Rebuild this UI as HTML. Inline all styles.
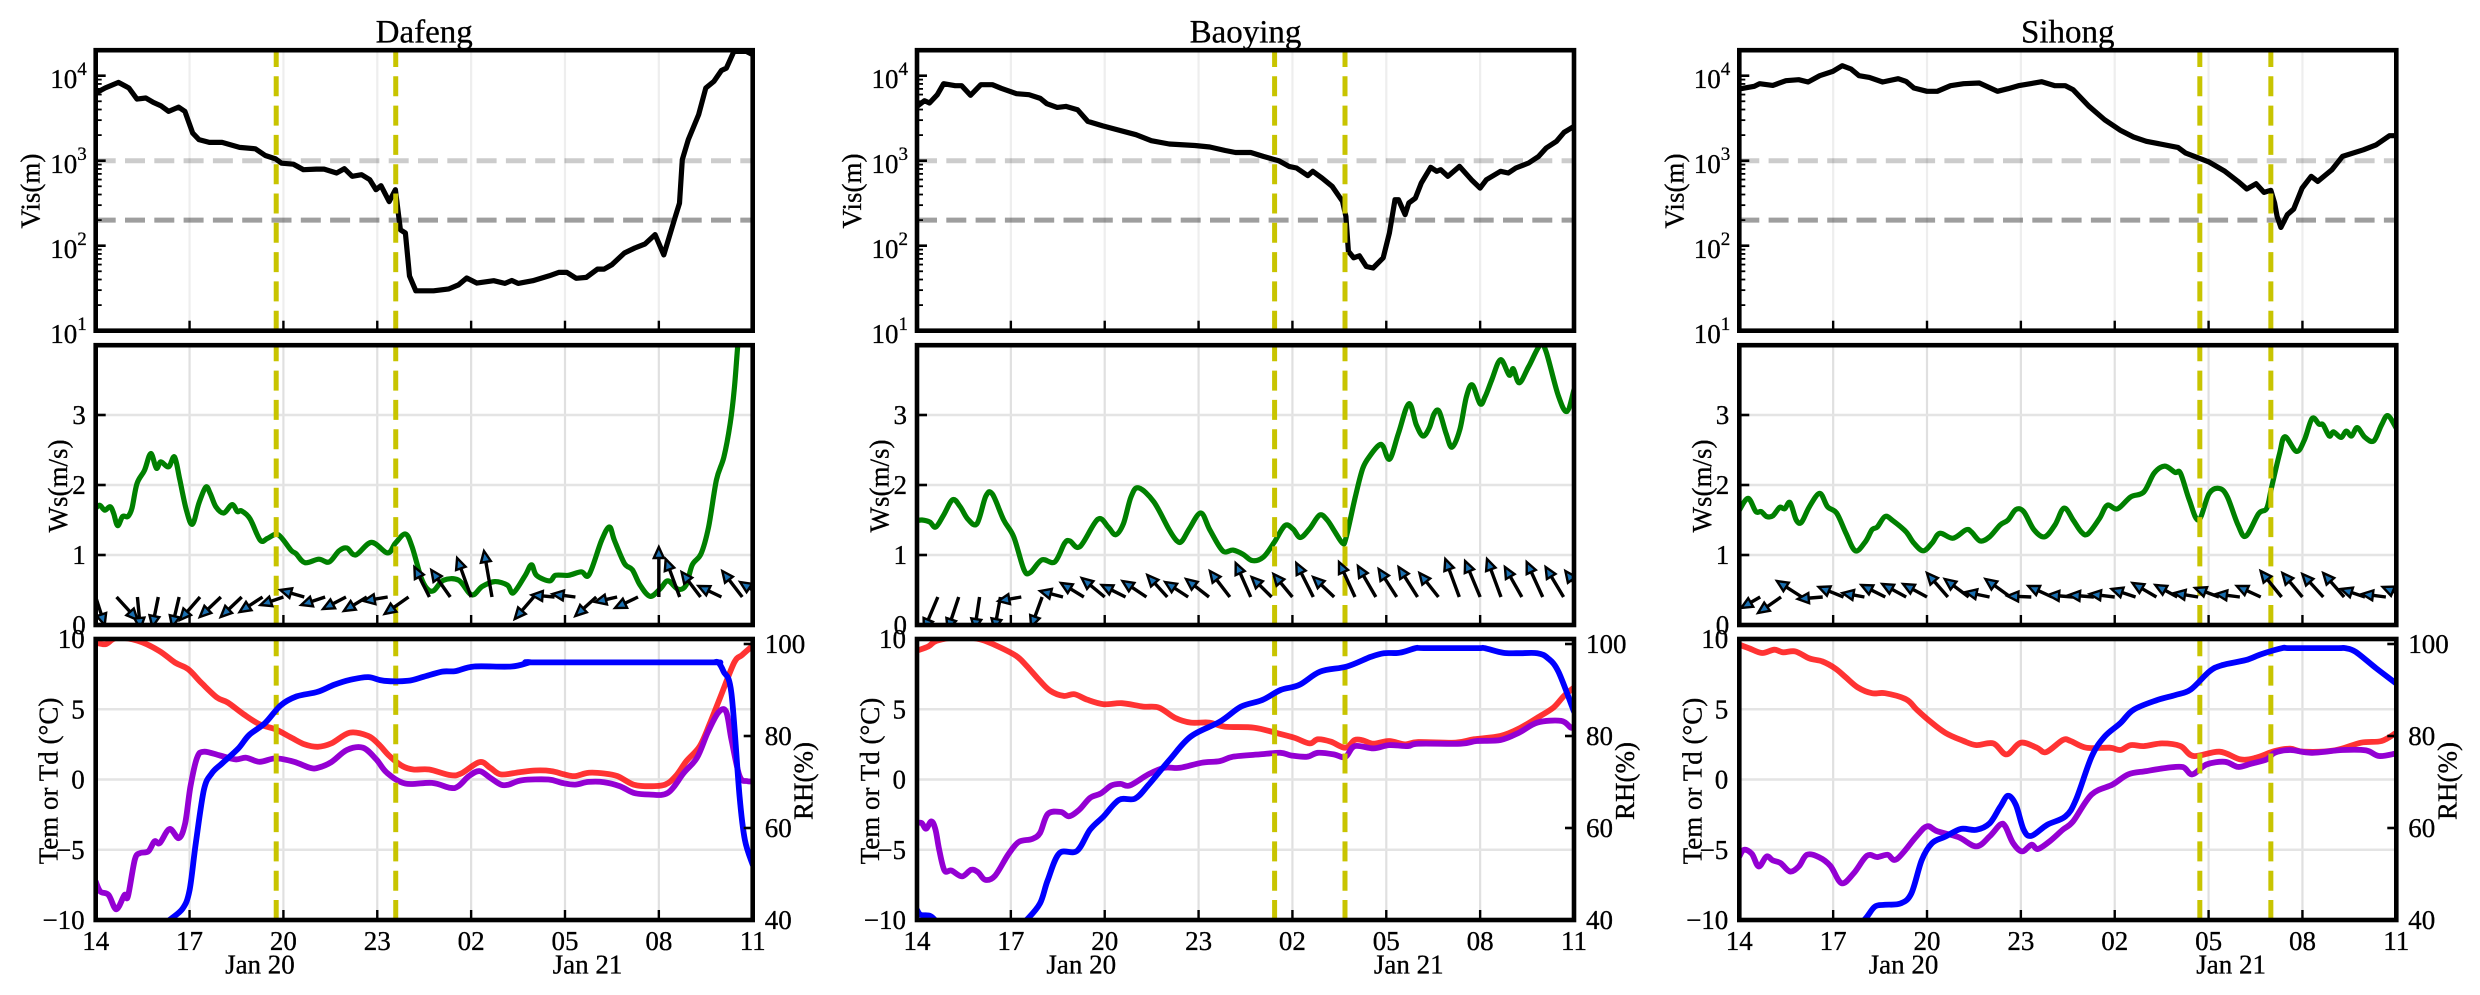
<!DOCTYPE html>
<html lang="en">
<head>
<meta charset="utf-8">
<title>Dafeng, Baoying and Sihong fog event time series</title>
<style>
html,body{margin:0;padding:0;background:#fff;width:2480px;height:995px;overflow:hidden}
svg{display:block}
text{font-family:"Liberation Serif","Times New Roman",serif;fill:#000;stroke:#000;stroke-width:.3px}
</style>
</head>
<body>
<svg id="chart" xmlns="http://www.w3.org/2000/svg" width="2480" height="995" viewBox="0 0 2480 995"></svg>
<script>
// ---------- shared axis data ----------
var xTickHours = [0, 3, 6, 9, 12, 15, 18, 21];
var xTickLabels = ['14', '17', '20', '23', '02', '05', '08', '11'];
var dateLabelHours = [5.25, 15.72];
var dateLabels = ['Jan 20', 'Jan 21'];
var visExponents = [1, 2, 3, 4];
var visThresholds = [1000, 200];
var wsTicks = [0, 1, 2, 3];
var tempTicks = [-10, -5, 0, 5, 10];
var rhTicks = [40, 60, 80, 100];
var windStepHours = 2 / 3;
var windBaseSpeed = 0.4;

// ---------- Dafeng ----------
var dafengEvents = [5.77, 9.59];
var dafengVisHours = [0,.3,.73,1.06,1.32,1.6,1.84,2.08,2.33,2.65,2.85,3.1,3.3,3.63,4.04,4.6,5.1,5.42,5.75,5.94,6.32,6.64,7.05,7.3,7.7,7.95,8.2,8.5,8.76,8.96,9.12,9.38,9.58,9.74,9.9,10.03,10.23,10.8,11.29,11.6,11.86,12.18,12.72,13.08,13.3,13.5,13.97,14.5,14.8,15.06,15.36,15.68,16.04,16.25,16.5,16.9,17.23,17.56,17.88,18.16,18.53,18.66,18.75,18.94,19.27,19.5,19.76,20,20.16,20.4,20.8,21];
var dafengVisValues = [6250,7160,8330,7160,5300,5460,4850,4440,3800,4270,3800,2110,1770,1640,1640,1435,1380,1150,1050,935,910,783,796,796,716,805,655,684,597,456,508,330,456,154,141,44,29.5,29.5,31,34.7,41.7,36.3,38.7,36,39,36,38.7,44.3,48.5,48.5,41.3,42.4,53,53,59.7,82,94,105,135,78,221,316,1030,1770,3470,7160,8580,11500,12300,19300,19300,17650];
var dafengWsHours = [0,.13,.29,.46,.57,.7,.86,1.03,1.16,1.32,1.56,1.76,1.94,2.08,2.33,2.52,2.69,2.9,3.09,3.3,3.52,3.66,3.84,4.09,4.36,4.53,4.66,4.93,5.26,5.5,5.83,6.24,6.4,6.69,7.13,7.46,7.78,8.03,8.31,8.81,9.33,9.58,9.9,10.11,10.39,10.59,10.8,11.12,11.6,12.02,12.35,12.75,13.16,13.35,13.73,13.93,14.09,14.51,14.7,15.11,15.52,15.77,16.17,16.42,16.58,16.9,17.15,17.4,17.72,18.05,18.29,18.62,18.87,19.07,19.35,19.59,19.84,20.08,20.28,20.41,20.52,20.57];
var dafengWsValues = [1.67,1.71,1.64,1.69,1.6,1.42,1.55,1.55,1.67,2.02,2.21,2.45,2.24,2.33,2.26,2.4,2.07,1.64,1.44,1.74,1.97,1.88,1.69,1.6,1.72,1.62,1.63,1.52,1.21,1.24,1.29,1.07,1.02,.89,.94,.9,1.06,1.1,1,1.18,1.03,1.17,1.3,1.12,.69,.52,.49,.64,.64,.43,.55,.62,.57,.46,.71,.86,.71,.63,.71,.71,.76,.72,1.21,1.4,1.21,.88,.79,.57,.41,.52,.63,.51,.57,.86,1.02,1.4,2.07,2.4,2.88,3.36,3.98,4.2];
var dafengWindU = [.9,2.1,.3,-.6,-.7,-2,-2.1,-2.1,-2.3,-2.3,-2.4,-2.4,-2.3,-2.3,-2.4,-2.4,-1.5,-1.9,-1.4,-.8,0,-1.9,-2.3,-2.3,-2.1,-2.2,-2.3,0,-1.4,-1.9,-2.3,-2,-2.3];
var dafengWindV = [-2.8,-2.3,-3.2,-3,-3,-2.3,-2,-2,-1.5,-.8,.7,-.8,-1.2,-1.4,-.4,-1.7,3,2.7,3.9,4.6,0,-2.2,.2,.3,-1.9,-.5,-1.1,5,3.8,2.5,1.1,2.6,1.5];
var dafengTempHours = [0,.32,.66,1.34,2.02,2.53,2.95,3.37,3.88,4.22,4.73,5.24,5.75,6.25,6.68,7.1,7.53,8.12,8.71,9.05,9.39,9.81,10.15,10.66,11.34,11.68,12.27,12.61,12.95,13.54,14.05,14.56,14.98,15.32,15.75,16.25,16.68,17.19,17.69,18.2,18.54,18.88,19.31,19.64,19.98,20.41,20.66,21];
var dafengTempValues = [9.76,9.64,10.07,9.88,9.17,8.33,7.86,6.9,5.83,5.48,4.64,3.93,3.57,2.98,2.5,2.33,2.57,3.33,3.1,2.5,1.67,.95,.71,.71,.31,.43,1.24,.83,.36,.52,.64,.6,.36,.24,.48,.43,.24,-.36,-.48,-.36,.24,1.31,2.38,4.05,5.95,8.33,8.86,9.52];
var dafengDewHours = [0,.15,.41,.66,.92,1.03,1.25,1.42,1.68,1.88,2.05,2.36,2.66,2.86,3.03,3.24,3.46,3.97,4.47,4.81,5.24,5.75,6.34,6.85,7.1,7.53,8.03,8.54,8.97,9.31,9.9,10.75,11.34,11.59,11.93,12.27,12.61,12.95,13.2,13.63,14.47,14.9,15.32,15.75,16.25,16.76,17.19,17.69,18.29,18.8,19.22,19.56,19.9,20.15,20.32,20.58,20.83,21];
var dafengDewValues = [-7.26,-7.98,-8.21,-9.24,-8.21,-8.33,-5.71,-5.24,-5.12,-4.4,-4.52,-3.52,-4.17,-3.1,-.48,1.55,1.98,1.71,1.43,1.55,1.26,1.5,1.26,.83,.83,1.24,2.1,2.26,1.43,.48,-.29,-.24,-.6,-.48,.24,.6,.12,-.36,-.36,-.05,0,-.24,-.36,-.17,-.19,-.48,-.95,-1.07,-.95,.48,1.55,3.33,4.76,4.83,2.86,.24,-.12,-.12];
var dafengRhHours = [2,2.36,2.78,3,3.2,3.46,3.71,4.05,4.56,4.9,5.41,5.92,6.42,7.1,7.61,8.12,8.71,9.22,9.98,10.49,11.08,11.5,12.1,13.29,13.88,14.2,19.5,19.75,19.9,20.07,20.32,20.58,20.75,21];
var dafengRhValues = [37.8,40,42.5,46.5,56.7,68.3,71.9,74.1,77.3,80.2,82.8,86.7,88.6,89.6,91.1,92.2,92.8,92,92,92.9,94,94.1,95.1,95.1,96,96,96,96,96,94,89.3,66.8,57.4,52];

// ---------- Baoying ----------
var baoyingEvents = [11.43, 13.68];
var baoyingVisHours = [0,.24,.4,.65,.85,1.22,1.43,1.71,2.04,2.41,2.69,3.18,3.58,3.94,4.15,4.48,4.76,5.13,5.46,5.94,7,7.49,8.06,8.88,9.36,9.85,10.18,10.67,11.07,11.56,11.89,12.13,12.49,12.65,12.95,13.27,13.6,13.71,13.79,13.96,14.14,14.36,14.58,14.9,15.1,15.28,15.39,15.6,15.72,15.93,16.12,16.42,16.61,16.74,16.97,17.34,17.72,18,18.2,18.65,18.9,19.14,19.55,19.87,20.11,20.44,20.68,21];
var baoyingVisValues = [4350,5080,4770,5970,8050,7620,7620,5880,7830,7830,7100,6140,5970,5410,4680,4240,4350,3980,2900,2570,2020,1720,1570,1510,1450,1320,1250,1250,1125,1000,858,820,667,750,625,499,333,221,86,72,76,57,54.6,72,141,348,348,232,318,363,546,836,750,783,655,858,597,476,597,750,716,820,940,1125,1410,1690,2150,2530];
var baoyingWsHours = [0,.16,.41,.6,.85,1.14,1.38,1.63,1.92,2.2,2.41,2.77,3.09,3.42,3.62,3.99,4.4,4.72,4.89,5.21,5.78,6.11,6.35,6.6,6.84,7.08,7.57,8.06,8.31,8.47,8.71,9.07,9.36,9.77,10.1,10.42,10.72,11.07,11.4,11.76,12.02,12.25,12.54,12.87,13.11,13.36,13.6,13.71,14.01,14.25,14.5,14.77,14.9,15.11,15.39,15.72,15.96,16.17,16.37,16.53,16.69,16.91,17.1,17.35,17.56,17.75,18,18.16,18.37,18.65,18.93,19.06,19.25,19.55,19.92,20.11,20.49,20.77,21];
var baoyingWsValues = [1.49,1.5,1.47,1.4,1.57,1.79,1.69,1.51,1.45,1.84,1.87,1.5,1.26,.79,.75,.93,.9,1.17,1.2,1.12,1.51,1.4,1.29,1.45,1.83,1.96,1.76,1.36,1.2,1.2,1.38,1.6,1.36,1.06,1.07,1.01,.92,.97,1.17,1.42,1.37,1.25,1.37,1.57,1.5,1.33,1.17,1.24,1.83,2.24,2.43,2.57,2.55,2.37,2.74,3.16,2.86,2.7,2.81,3.02,3.05,2.74,2.54,2.79,3.26,3.43,3.16,3.26,3.5,3.79,3.57,3.66,3.46,3.69,4,3.9,3.29,3.05,3.36];
var baoyingWindU = [-1.3,-1.4,-1.1,-.5,-.6,-2.3,-1.1,-2.3,-2.3,-2.3,-2.4,-2.4,-2,-2.3,-2.3,-2,-1.5,-2,-1.9,-1.7,-2.1,-1.6,-1.8,-1.8,-1.9,-1.9,-1.4,-1.5,-1.4,-1.7,-1.6,-1.8,-1.9];
var baoyingWindV = [-3.3,-3.3,-3.3,-3.3,-3.3,-.4,-3,.6,1.4,1.9,1.2,1.6,2.2,1.5,1.8,2.6,3.4,2,2.3,3.4,2,3.5,3.1,2.8,3,2.4,3.8,3.6,3.8,3,3.5,3,2.6];
var baoyingTempHours = [0,.37,.63,1.3,1.98,2.49,3.16,3.5,3.93,4.26,4.69,5.03,5.45,5.96,6.55,7.23,7.73,8.24,8.75,9.34,9.85,10.78,11.46,12.05,12.55,12.81,13.23,13.69,13.99,14.25,14.59,15.09,15.6,16.02,17.21,17.8,18.65,19.24,19.83,20.34,20.68,21];
var baoyingTempValues = [9.17,9.48,9.88,10.12,10,9.57,8.81,8.1,7.02,6.31,5.95,6.07,5.67,5.36,5.43,5.19,5.12,4.4,4.05,4.05,3.76,3.69,3.33,2.98,2.57,2.86,2.69,2.26,2.81,2.79,2.55,2.74,2.5,2.67,2.62,2.86,3.1,3.62,4.4,5.12,5.95,6.55];
var baoyingDewHours = [0,.15,.29,.46,.59,.71,.88,1.1,1.44,1.73,1.95,2.18,2.49,2.91,3.25,3.67,3.93,4.18,4.6,4.86,5.19,5.53,5.87,6.21,6.51,6.8,7.39,7.9,8.41,9.09,9.68,10.1,10.95,11.62,11.96,12.47,12.81,13.32,13.69,13.99,14.59,15.09,15.69,16.02,17.38,17.89,18.65,19.24,19.83,20.59,20.9,21];
var baoyingDewValues = [-3.1,-3.1,-3.5,-2.98,-3.57,-5,-6.48,-6.48,-6.9,-6.43,-6.6,-7.14,-6.86,-5.36,-4.45,-4.24,-3.81,-2.45,-2.31,-2.62,-2.14,-1.31,-1,-.43,-.31,-.43,.36,.83,.83,1.19,1.31,1.62,1.79,1.9,1.71,1.62,1.9,1.79,1.6,2.38,2.21,2.45,2.38,2.55,2.55,2.74,2.81,3.33,4.05,4.17,3.69,3.81];
var baoyingRhHours = [0,.12,.42,.63,1,3,3.5,3.93,4.18,4.55,5.11,5.53,5.96,6.46,6.97,7.39,8.07,8.75,9.68,10.36,11.03,11.62,12.22,12.89,13.74,14.5,14.92,15.43,15.94,16.2,17.9,18.14,18.73,19.2,19.83,20.17,20.5,21];
var baoyingRhValues = [42.2,41.1,40.9,39.6,37,37,40,43.6,48.7,54.5,55,59.6,62.5,66.1,66.4,69.3,74.8,79.9,83.1,86.4,87.8,90,91.1,94,95.1,97.2,98,98.1,99.1,99.1,99.1,99.1,98.1,98,98,96.9,94,85.3];

// ---------- Sihong ----------
var sihongEvents = [14.72, 16.99];
var sihongVisHours = [0,.48,.65,1.07,1.49,1.9,2.2,2.57,2.99,3.29,3.57,3.83,4.16,4.58,5.08,5.33,5.58,6,6.33,6.75,7.17,7.67,8.25,8.59,8.92,9.67,10.09,10.42,10.67,11.18,11.68,12.18,12.6,13.01,14.02,14.27,15.02,15.52,15.94,16.22,16.52,16.77,16.99,17.11,17.19,17.31,17.52,17.72,17.99,18.28,18.49,18.94,19.28,19.95,20.36,20.78,21];
var sihongVisValues = [6970,7500,8050,7690,8730,8970,8420,10000,11250,13100,12000,10000,9560,8420,9230,8580,7160,6550,6550,7620,8050,8200,6550,7030,7620,8500,7620,7620,6840,4350,3030,2280,1900,1690,1435,1230,964,750,571,465,537,424,448,318,221,164,232,270,476,655,571,783,1125,1345,1540,1970,1970];
var sihongWsHours = [0,.28,.53,.7,.87,1.07,1.29,1.45,1.62,1.82,1.99,2.24,2.57,2.82,3.11,3.41,3.71,4.03,4.24,4.41,4.66,4.91,5.33,5.58,5.88,6.16,6.41,6.83,7.25,7.42,7.7,8,8.34,8.59,8.84,9.09,9.42,9.76,10.09,10.38,10.67,10.93,11.14,11.51,11.76,12.09,12.51,12.93,13.26,13.6,13.93,14.1,14.38,14.68,15.02,15.35,15.6,15.94,16.19,16.6,16.86,17.02,17.27,17.44,17.81,18.06,18.31,18.53,18.66,18.86,18.99,19.23,19.4,19.57,19.75,20,20.28,20.53,20.73,21];
var sihongWsValues = [1.64,1.81,1.62,1.62,1.55,1.56,1.68,1.66,1.75,1.5,1.47,1.69,1.88,1.69,1.6,1.31,1.06,1.19,1.36,1.4,1.55,1.49,1.33,1.17,1.06,1.17,1.31,1.24,1.36,1.33,1.2,1.26,1.43,1.5,1.65,1.62,1.36,1.26,1.43,1.67,1.5,1.33,1.3,1.52,1.71,1.66,1.83,1.9,2.17,2.27,2.18,2.17,1.79,1.5,1.88,1.95,1.83,1.43,1.27,1.59,1.67,1.98,2.45,2.69,2.48,2.64,2.95,2.87,2.86,2.7,2.76,2.68,2.77,2.7,2.82,2.68,2.63,2.86,2.99,2.81];
var sihongWindU = [-2,-1.9,-2.3,-2.5,-2.5,-2.5,-2.2,-2.4,-2.4,-2.4,-2.1,-2.4,-2.4,-2.5,-2.4,-2.4,-2.5,-2.5,-2.5,-2.4,-2.4,-2.2,-2.4,-2.4,-2.4,-2.4,-2.1,-2,-2.1,-2.1,-2.4,-2.4,-2.4];
var sihongWindV = [-1,-1.1,-1.6,1.6,-.2,1,.4,1.2,1.3,1.3,2.4,1.8,.5,1.8,.1,1.1,.2,.2,.3,.8,1.4,1.2,.4,.9,.3,1.1,2.6,2.4,2.3,2.4,.8,.3,1];
var sihongTempHours = [0,.32,.73,1.12,1.4,1.79,2.24,2.66,3.07,3.41,3.79,4.24,4.66,5.33,5.66,6.08,6.58,7.17,7.58,8.12,8.54,9,9.51,9.81,10.34,10.59,11.09,11.84,12.18,12.51,12.93,13.51,14.1,14.52,15.35,16.02,16.52,17.11,17.61,18.03,19.03,19.87,20.53,21];
var sihongTempValues = [9.6,9.33,9,9.24,9.05,9.12,8.62,8.4,7.9,7.26,6.55,6.14,6.14,5.71,5,4.17,3.33,2.74,2.45,2.57,1.79,2.62,2.26,1.95,2.81,2.74,2.26,2.26,2.1,2.45,2.38,2.57,2.38,1.67,1.98,1.43,1.55,2.02,2.19,1.98,2.07,2.62,2.74,3.33];
var sihongDewHours = [0,.15,.4,.62,.87,1.07,1.32,1.62,1.9,2.16,2.54,2.91,3.27,3.66,4.08,4.41,4.74,5.03,5.66,6,6.33,7,7.58,8,8.34,8.5,8.75,9.04,9.34,9.54,9.92,10.34,10.67,11.26,11.93,12.43,13.01,13.68,14.18,14.48,14.93,15.52,15.94,16.35,16.86,17.11,17.61,18.28,19.28,20.03,20.45,21];
var sihongDewValues = [-5.48,-5,-5.29,-6.19,-5.48,-5.76,-5.95,-6.55,-6.19,-5.36,-5.52,-6.14,-7.38,-6.67,-5.43,-5.52,-5.36,-5.67,-4.05,-3.33,-3.69,-4.1,-4.76,-4.05,-3.21,-3.33,-4.52,-5.12,-4.64,-4.95,-4.4,-3.57,-2.98,-1.07,-.36,.36,.6,.83,.88,.36,1.07,1.26,.9,1.12,1.43,1.9,2.1,1.9,2.1,2.07,1.67,1.86];
var sihongRhHours = [3.49,3.99,4.33,4.66,5.16,5.5,5.83,6.16,6.58,7.08,7.58,8,8.34,8.59,8.84,9.09,9.34,9.84,10.42,10.76,11.26,11.68,12.18,12.6,13.35,13.93,14.43,15.02,15.43,16.19,16.69,17.36,17.6,19.1,19.36,19.7,20.36,21];
var sihongRhValues = [37.8,40,42.9,43.3,43.6,45.8,53,56.7,58.1,59.8,59.6,61,64.6,67,65,59.6,58.3,60.7,62.5,66.1,75.5,79.9,82.8,85.7,87.8,88.9,90.1,94,95.4,96.5,97.8,99.1,99.1,99.1,99.1,98.3,94.7,91.4];

// ---------- geometry of the figure ----------
var NS = 'http://www.w3.org/2000/svg';
var svg = document.getElementById('chart');
var plotWidth = 657;
var hourSpan = 21;
var panelVisTop = 50.2, panelVisBottom = 330.7;
var panelWsTop = 345.2, panelWsBottom = 625;
var panelTempTop = 639, panelTempBottom = 920;
var windPxPerUnit = 10;

function yVis(v) { return panelVisBottom - (Math.log10(v) - 1) * 85; }
function yWs(v) { return panelWsBottom - v * 70; }
function yTemp(v) { return panelTempBottom - (v + 10) * 14.05; }
function yRh(v) { return panelTempBottom - (v - 40) * 4.6; }

function make(parent, tag, attrs) {
  var el = document.createElementNS(NS, tag);
  for (var key in attrs) { el.setAttribute(key, attrs[key]); }
  parent.appendChild(el);
  return el;
}
function seg(parent, x1, y1, x2, y2, stroke, width, dash) {
  var attrs = { x1: x1, y1: y1, x2: x2, y2: y2, stroke: stroke, 'stroke-width': width };
  if (dash) { attrs['stroke-dasharray'] = dash; }
  return make(parent, 'line', attrs);
}
function label(parent, x, y, str, size, anchor, rotate) {
  var attrs = { x: x, y: y, 'font-size': size, 'text-anchor': anchor };
  if (rotate) { attrs.transform = 'rotate(-90 ' + x + ' ' + y + ')'; }
  var el = make(parent, 'text', attrs);
  el.textContent = str;
  return el;
}
function curve(parent, hours, values, xFn, yFn, color, width, clipId, smooth) {
  var px = [], py = [];
  for (var i = 0; i < hours.length; i++) {
    px.push(xFn(hours[i]));
    py.push(yFn(values[i]));
  }
  var d = 'M' + px[0].toFixed(1) + ' ' + py[0].toFixed(1);
  var k = smooth ? 1 / 6 : 0;
  for (var j = 1; j < px.length; j++) {
    var a = Math.max(j - 2, 0), b = j - 1, c = j, e = Math.min(j + 1, px.length - 1);
    d += ' C' + (px[b] + (px[c] - px[a]) * k).toFixed(1) + ' ' + (py[b] + (py[c] - py[a]) * k).toFixed(1) +
         ' ' + (px[c] - (px[e] - px[b]) * k).toFixed(1) + ' ' + (py[c] - (py[e] - py[b]) * k).toFixed(1) +
         ' ' + px[c].toFixed(1) + ' ' + py[c].toFixed(1);
  }
  return make(parent, 'path', { d: d, fill: 'none', stroke: color, 'stroke-width': width, 'stroke-linejoin': 'round', 'stroke-linecap': 'round', 'clip-path': 'url(#' + clipId + ')' });
}
function verticalGrid(group, xFn, top, bottom, color) {
  for (var i = 1; i < xTickHours.length - 1; i++) {
    var g = seg(group, xFn(xTickHours[i]), top, xFn(xTickHours[i]), bottom, color, 2.2);
    
    
  }
}
function bottomTicks(group, xFn, bottom) {
  for (var i = 1; i < xTickHours.length - 1; i++) {
    var t = seg(group, xFn(xTickHours[i]), bottom, xFn(xTickHours[i]), bottom - 10, '#000', 2.4);
    
    
  }
}
function eventLines(group, events, xFn, top, bottom, clipId) {
  for (var i = 0; i < events.length; i++) {
    var v = seg(group, xFn(events[i]), bottom, xFn(events[i]), top, '#c8c400', 5, '20 9.3');
    v.setAttribute('clip-path', 'url(#' + clipId + ')');
    
    
  }
}
function frame(group, left, top, bottom) {
  var f = make(group, 'rect', { x: left, y: top, width: plotWidth, height: bottom - top, fill: 'none', stroke: '#000', 'stroke-width': 4.6 });
  
  
}
function clipFor(id, left, top, bottom) {
  var c = make(svg, 'clipPath', { id: id });
  make(c, 'rect', { x: left, y: top, width: plotWidth, height: bottom - top });
}
function arrow(group, x0, y0, u, v) {
  var dx = u * windPxPerUnit, dy = -v * windPxPerUnit;
  var len = Math.sqrt(dx * dx + dy * dy);
  if (len === 0) { return null; }
  var ux = dx / len, uy = dy / len;
  var headLen = 11, half = 5;
  var tipX = x0 + dx, tipY = y0 + dy;
  var baseX = tipX - ux * headLen, baseY = tipY - uy * headLen;
  var a = make(group, 'g', {});
  make(a, 'line', { x1: x0, y1: y0, x2: baseX, y2: baseY, stroke: '#000', 'stroke-width': 3.4 });
  make(a, 'polygon', {
    points: tipX.toFixed(1) + ',' + tipY.toFixed(1) + ' ' +
      (baseX - uy * half).toFixed(1) + ',' + (baseY + ux * half).toFixed(1) + ' ' +
      (baseX + uy * half).toFixed(1) + ',' + (baseY - ux * half).toFixed(1),
    fill: '#1a6fb0', stroke: '#000', 'stroke-width': 2.4, 'stroke-linejoin': 'miter'
  });
  return a;
}

function drawStation(slug, title, left, events, visH, visV, wsH, wsV, windU, windV, tempH, tempV, dewH, dewV, rhH, rhV) {
  var right = left + plotWidth;
  function xFn(h) { return left + h / hourSpan * plotWidth; }
  clipFor(slug + '-clip-vis', left, panelVisTop, panelVisBottom);
  clipFor(slug + '-clip-ws', left, panelWsTop, panelWsBottom);
  clipFor(slug + '-clip-temp', left, panelTempTop, panelTempBottom);

  var station = make(svg, 'g', {});
  
  

  var titleEl = label(station, left + plotWidth / 2, 42.5, title, 33, 'middle');
  
  

  // ---- visibility panel ----
  var p1 = make(station, 'g', {});
  
  
  verticalGrid(p1, xFn, panelVisTop, panelVisBottom, '#eeeeee');
  var visLine = curve(p1, visH, visV, xFn, yVis, '#000', 5.2, slug + '-clip-vis', false);
  
  
  for (var i = 0; i < visThresholds.length; i++) {
    var hl = seg(p1, left, yVis(visThresholds[i]), right, yVis(visThresholds[i]), i === 0 ? 'rgba(0,0,0,0.2)' : 'rgba(0,0,0,0.38)', 5, '20 9.3');
    
    
  }
  eventLines(p1, events, xFn, panelVisTop, panelVisBottom, slug + '-clip-vis');
  bottomTicks(p1, xFn, panelVisBottom);
  for (var e = 0; e < visExponents.length; e++) {
    var base = Math.pow(10, visExponents[e]);
    var yMajor = yVis(base);
    if (e > 0) {
      var mj = seg(p1, left, yMajor, left + 10, yMajor, '#000', 2.6);
      
      
    }
    var vl = label(p1, left - 9, yMajor + 12.5, '10', 27, 'end');
    var sup = make(vl, 'tspan', { dy: -13, 'font-size': 19 });
    sup.textContent = String(visExponents[e]);
    
    
    for (var m = 2; m <= 9; m++) {
      var val = base * m;
      if (val < 20000) {
        var mn = seg(p1, left, yVis(val), left + 6, yVis(val), '#000', 1.8);
        
        
      }
    }
  }
  frame(p1, left, panelVisTop, panelVisBottom);
  var visTitle = label(p1, left - 56, 191, 'Vis(m)', 27, 'middle', true);
  
  

  // ---- wind panel ----
  var p2 = make(station, 'g', {});
  
  
  verticalGrid(p2, xFn, panelWsTop, panelWsBottom, '#e0e0e0');
  for (var w = 1; w < wsTicks.length; w++) {
    var hg = seg(p2, left, yWs(wsTicks[w]), right, yWs(wsTicks[w]), '#e4e4e4', 2.6);
    
    
  }
  var wsLine = curve(p2, wsH, wsV, xFn, yWs, '#008000', 5.2, slug + '-clip-ws', true);
  
  
  eventLines(p2, events, xFn, panelWsTop, panelWsBottom, slug + '-clip-ws');
  var quiver = make(p2, 'g', { 'clip-path': 'url(#' + slug + '-clip-ws)' });
  
  
  for (var k = 0; k < windU.length; k++) {
    var ar = arrow(quiver, xFn(k * windStepHours), yWs(windBaseSpeed), windU[k], windV[k]);
    if (ar) {
      
      
    }
  }
  bottomTicks(p2, xFn, panelWsBottom);
  for (var t2 = 0; t2 < wsTicks.length; t2++) {
    if (t2 > 0) {
      var wt = seg(p2, left, yWs(wsTicks[t2]), left + 10, yWs(wsTicks[t2]), '#000', 2.6);
      
      
    }
    var wl = label(p2, left - 10, yWs(wsTicks[t2]) + 9.2, String(wsTicks[t2]), 27, 'end');
    
    
  }
  frame(p2, left, panelWsTop, panelWsBottom);
  var wsTitle = label(p2, left - 28.5, 486, 'Ws(m/s)', 27, 'middle', true);
  
  

  // ---- temperature / humidity panel ----
  var p3 = make(station, 'g', {});
  
  
  verticalGrid(p3, xFn, panelTempTop, panelTempBottom, '#e0e0e0');
  for (var g3 = 1; g3 < tempTicks.length - 1; g3++) {
    var hg3 = seg(p3, left, yTemp(tempTicks[g3]), right, yTemp(tempTicks[g3]), '#e4e4e4', 2.6);
    
    
  }
  var tempLine = curve(p3, tempH, tempV, xFn, yTemp, 'rgba(255,0,0,0.8)', 5.8, slug + '-clip-temp', true);
  
  
  var dewLine = curve(p3, dewH, dewV, xFn, yTemp, '#9400d3', 5.8, slug + '-clip-temp', true);
  
  
  eventLines(p3, events, xFn, panelTempTop, panelTempBottom, slug + '-clip-temp');
  var rhLine = curve(p3, rhH, rhV, xFn, yRh, '#0000ff', 5.8, slug + '-clip-temp', true);
  
  
  bottomTicks(p3, xFn, panelTempBottom);
  for (var t3 = 0; t3 < tempTicks.length; t3++) {
    var txt = tempTicks[t3] < 0 ? '\u2212' + Math.abs(tempTicks[t3]) : String(tempTicks[t3]);
    var tl = label(p3, left - 11, yTemp(tempTicks[t3]) + 9.2, txt, 27, 'end');
    
    
  }
  for (var r3 = 0; r3 < rhTicks.length; r3++) {
    if (r3 > 0) {
      var rt = seg(p3, right, yRh(rhTicks[r3]), right - 9, yRh(rhTicks[r3]), '#000', 2.6);
      
      
    }
    var rl = label(p3, right + 12, yRh(rhTicks[r3]) + 9, String(rhTicks[r3]), 27, 'start');
    
    
  }
  for (var x3 = 0; x3 < xTickHours.length; x3++) {
    var xl = label(p3, xFn(xTickHours[x3]), 950, xTickLabels[x3], 27, 'middle');
    
    
  }
  for (var d3 = 0; d3 < dateLabels.length; d3++) {
    var dl = label(p3, xFn(dateLabelHours[d3]), 973.5, dateLabels[d3], 27, 'middle');
    
    
  }
  frame(p3, left, panelTempTop, panelTempBottom);
  var tempTitle = label(p3, left - 38, 781, 'Tem or Td (\u00b0C)', 27, 'middle', true);
  
  
  var rhTitle = label(p3, right + 60, 781, 'RH(%)', 27, 'middle', true);
  
  
}

drawStation('dafeng', 'Dafeng', 95.7, dafengEvents, dafengVisHours, dafengVisValues, dafengWsHours, dafengWsValues, dafengWindU, dafengWindV, dafengTempHours, dafengTempValues, dafengDewHours, dafengDewValues, dafengRhHours, dafengRhValues);
drawStation('baoying', 'Baoying', 917, baoyingEvents, baoyingVisHours, baoyingVisValues, baoyingWsHours, baoyingWsValues, baoyingWindU, baoyingWindV, baoyingTempHours, baoyingTempValues, baoyingDewHours, baoyingDewValues, baoyingRhHours, baoyingRhValues);
drawStation('sihong', 'Sihong', 1739.3, sihongEvents, sihongVisHours, sihongVisValues, sihongWsHours, sihongWsValues, sihongWindU, sihongWindV, sihongTempHours, sihongTempValues, sihongDewHours, sihongDewValues, sihongRhHours, sihongRhValues);
</script>
</body>
</html>
